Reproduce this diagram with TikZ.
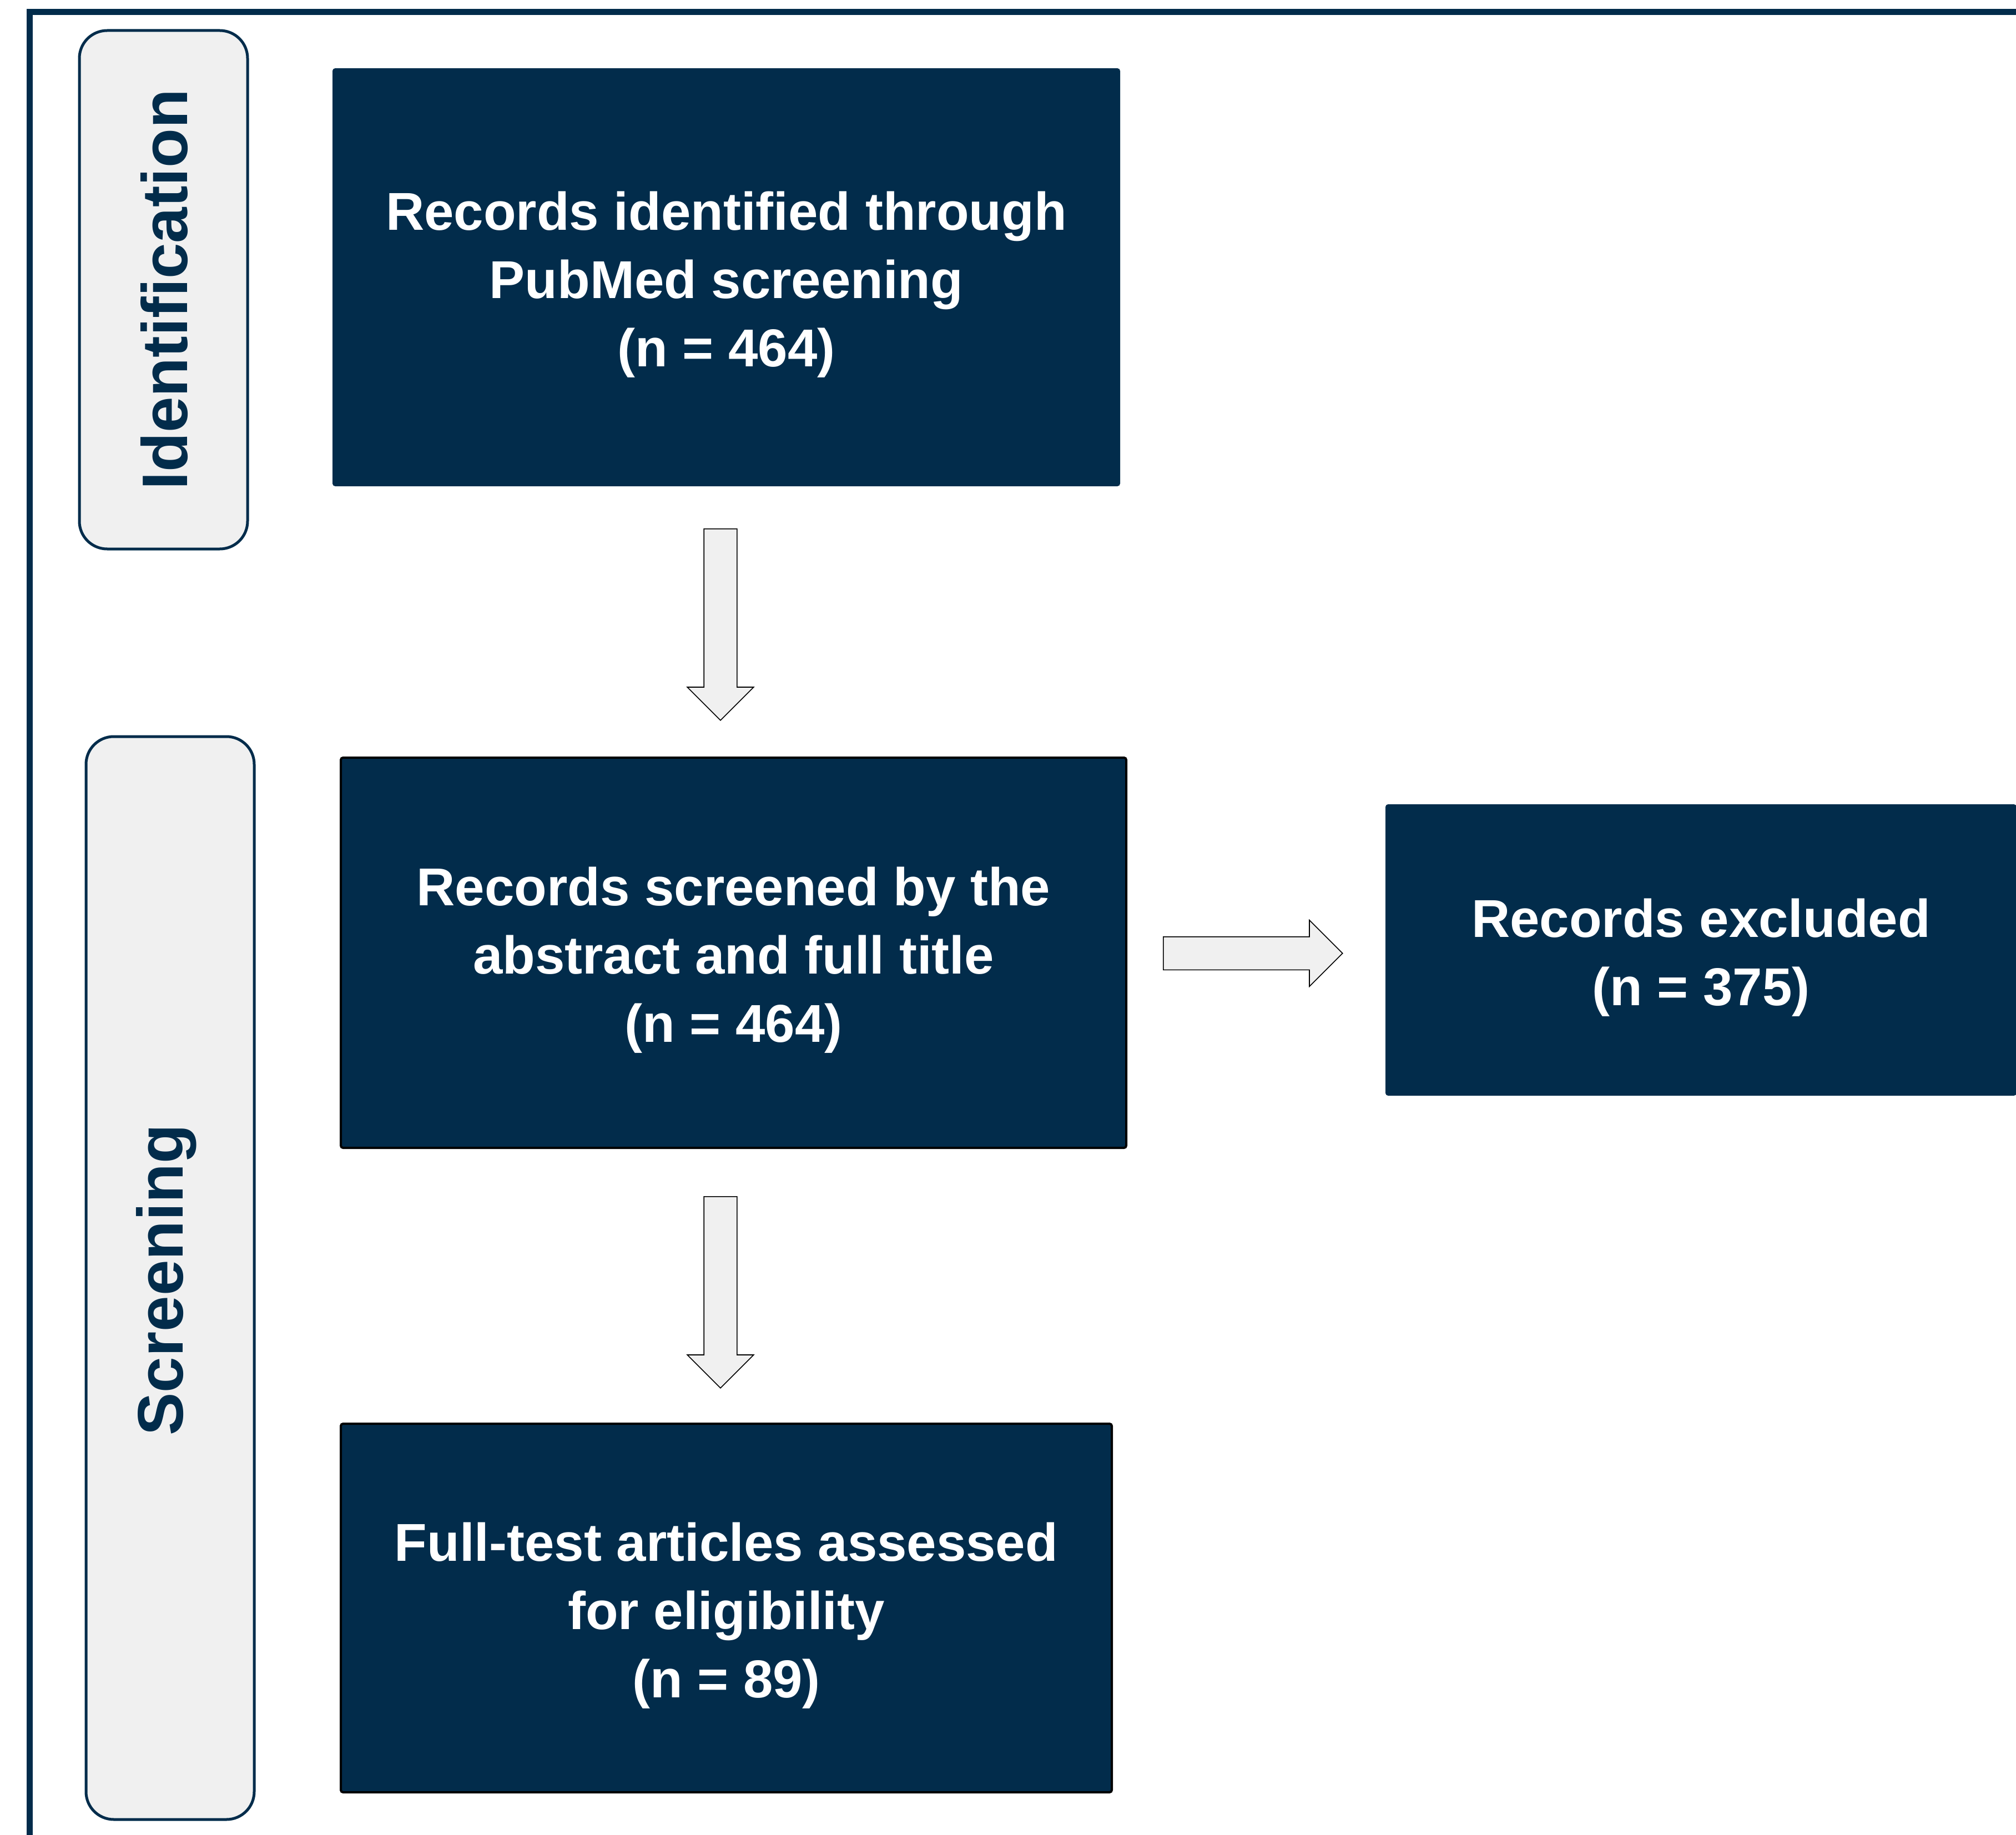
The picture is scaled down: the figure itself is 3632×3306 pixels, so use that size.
\documentclass[tikz,border=0pt]{standalone}
\usepackage{fontspec}
\setmainfont{Liberation Sans}
\usetikzlibrary{shapes.arrows}
\definecolor{navy}{RGB}{2,44,75}
\definecolor{lgray}{RGB}{240,240,240}
\newcommand{\firststrut}{\rule{0pt}{24pt}}
\begin{document}
\begin{tikzpicture}[x=0.25pt,y=-0.25pt,
  box/.style={rectangle, fill=navy, draw=navy, line width=0.5pt, text=white,
    font=\fontsize{24}{30.75}\selectfont\bfseries, align=center, inner sep=0pt, rounded corners=1pt},
  boxb/.style={box, draw=black, line width=1pt},
  stage/.style={rectangle, rounded corners=12.5pt, fill=lgray, draw=navy, line width=1.25pt, inner sep=0pt},
  stagetext/.style={text=navy, font=\fontsize{29}{34}\selectfont\bfseries, rotate=90, anchor=base, inner sep=0pt},
  blockarrow/.style={single arrow, fill=lgray, draw=black, line width=0.4pt, inner sep=7.25pt,
    single arrow head extend=7.5pt, minimum width=29.5pt, anchor=tail}
]
\path[use as bounding box] (0,0) rectangle (3632,3306);
\begin{scope}
\clip (0,0) rectangle (3632,3306);
\draw[navy, line width=2.75pt] (53.5,21.5) rectangle (3720,3420);
\end{scope}

% stage labels
\node[stage, minimum width=75.75pt, minimum height=233.5pt] (sid) at (294.5,522) {};
\node[stagetext] (tid) at (337,522) {Identification};
\node[stage, minimum width=75.75pt, minimum height=487.75pt] (ssc) at (306.5,2302.5) {};
\node[stagetext] (tsc) at (329,2306) {Screening};

% boxes
\node[box, minimum width=354.25pt, minimum height=187.75pt] (b1) at (1308.5,499.5)
  {\firststrut Records identified through\\PubMed screening\\(n = 464)};
\node[boxb, minimum width=353.75pt, minimum height=175.75pt] (b2) at (1321.5,1716.5)
  {\firststrut Records screened by the\\abstract and full title\\(n = 464)};
\node[box, minimum width=283.75pt, minimum height=130.75pt] (b3) at (3064.5,1711.5)
  {\firststrut Records excluded\\(n = 375)};
\node[boxb, minimum width=347.25pt, minimum height=166pt] (b4) at (1308.5,2897)
  {\firststrut Full-test articles assessed\\for eligibility\\(n = 89)};

% block arrows
\node[blockarrow, shape border rotate=270, minimum height=86.25pt] (a1) at (1298,952) {};
\node[blockarrow, shape border rotate=270, minimum height=86.25pt] (a2) at (1298,2155) {};
\node[blockarrow, shape border rotate=0, minimum height=80.75pt] (a3) at (2095,1717.5) {};
\end{tikzpicture}
\end{document}
